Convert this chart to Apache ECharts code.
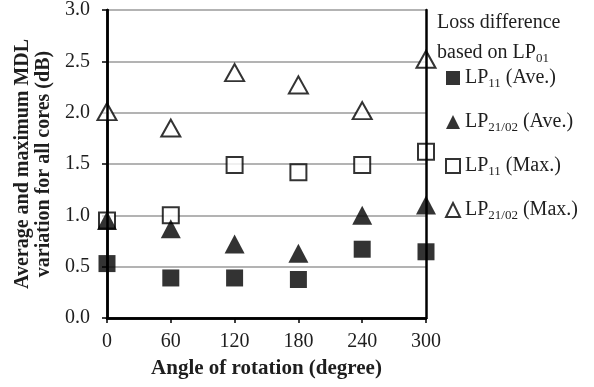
<!DOCTYPE html>
<html>
<head>
<meta charset="utf-8">
<script src="https://cdn.jsdelivr.net/npm/echarts@6/dist/echarts.min.js"></script>
<style>
  html, body { margin: 0; padding: 0; background: #fff; }
  #chart { width: 594px; height: 387px; }
</style>
</head>
<body>
<div id="chart"></div>
<script>
// Rotation angles (degrees) and MDL loss differences (dB) relative to LP01
const angles = [0, 60, 120, 180, 240, 300];
const lp11Ave = [0.53, 0.39, 0.39, 0.375, 0.67, 0.645];
const lp2102Ave = [0.95, 0.87, 0.72, 0.63, 1.0, 1.1];
const lp11Max = [0.95, 1.0, 1.49, 1.42, 1.49, 1.62];
const lp2102Max = [2.01, 1.85, 2.39, 2.27, 2.02, 2.52];

const seriesNames = ['LP11 (Ave.)', 'LP21/02 (Ave.)', 'LP11 (Max.)', 'LP21/02 (Max.)'];
const legendLabels = {
  'LP11 (Ave.)': '{n|LP}{s|11}{n| (Ave.)}',
  'LP21/02 (Ave.)': '{n|LP}{s|21/02}{n| (Ave.)}',
  'LP11 (Max.)': '{n|LP}{s|11}{n| (Max.)}',
  'LP21/02 (Max.)': '{n|LP}{s|21/02}{n| (Max.)}'
};

const FONT = '"Liberation Serif", "Times New Roman", serif';
const INK = '#000';
const TXT = '#1e1e1e';

const pairs = arr => angles.map((a, i) => [a, arr[i]]);

const chart = echarts.init(document.getElementById('chart'), null, { renderer: 'canvas' });

// Frame lines drawn above the markers (left, right and top edges of the plot)
const frameAxis = (pos, max) => ({
  type: 'value', position: pos, min: 0, max: max,
  z: 10,
  axisLine: { show: true, lineStyle: { color: INK, width: 2.5 } },
  axisTick: { show: false }, axisLabel: { show: false }, splitLine: { show: false }
});

chart.setOption({
  animation: false,
  backgroundColor: '#fff',
  textStyle: { fontFamily: FONT },
  grid: { left: 107, right: 168, top: 6, bottom: 69, show: false },
  title: {
    left: 432, top: 3,
    text: '{n|Loss difference}\n{n|based on LP}{s|01}',
    textStyle: {
      fontWeight: 'normal',
      rich: {
        n: { fontFamily: FONT, fontSize: 20, fontWeight: 'normal', color: TXT, lineHeight: 30 },
        s: { fontFamily: FONT, fontSize: 13, fontWeight: 'normal', color: TXT, lineHeight: 30, padding: [11, 0, 0, 0] }
      }
    }
  },
  legend: {
    orient: 'vertical', left: 445, top: 68, padding: 0,
    itemWidth: 14, itemHeight: 14, itemGap: 22,
    data: seriesNames,
    formatter: name => legendLabels[name],
    textStyle: {
      rich: {
        n: { fontFamily: FONT, fontSize: 20, color: TXT },
        s: { fontFamily: FONT, fontSize: 13, color: TXT, padding: [11, 0, 0, 0] }
      }
    }
  },
  xAxis: [
    {
      type: 'value', min: 0, max: 300, interval: 60,
      name: 'Angle of rotation (degree)', nameLocation: 'middle', nameGap: 40,
      nameTextStyle: { fontFamily: FONT, fontSize: 21, fontWeight: 'bold', color: TXT },
      axisLine: { show: true, lineStyle: { color: INK, width: 2.5 } },
      axisTick: { show: true, length: 5, lineStyle: { color: INK, width: 1.5 } },
      axisLabel: { fontFamily: FONT, fontSize: 20, color: TXT, margin: 14 },
      splitLine: { show: false }
    },
    frameAxis('top', 300)
  ],
  yAxis: [
    {
      type: 'value', min: 0, max: 3, interval: 0.5,
      name: 'Average and maximum MDL\nvariation for all cores (dB)',
      nameLocation: 'middle', nameGap: 43,
      nameTextStyle: { fontFamily: FONT, fontSize: 20, fontWeight: 'bold', color: TXT, lineHeight: 21 },
      axisLine: { show: true, lineStyle: { color: INK, width: 2.5 } },
      axisTick: { show: true, length: 5, lineStyle: { color: INK, width: 1.5 } },
      axisLabel: { fontFamily: FONT, fontSize: 20, color: TXT, margin: 17, formatter: v => v.toFixed(1) },
      splitLine: { show: true, lineStyle: { color: '#9a9a9a', width: 1.5 } }
    },
    frameAxis('left', 3),
    frameAxis('right', 3)
  ],
  series: [
    {
      name: 'LP11 (Ave.)', type: 'scatter', z: 3,
      symbol: 'rect', symbolSize: 17,
      itemStyle: { color: '#000' },
      data: pairs(lp11Ave)
    },
    {
      name: 'LP21/02 (Ave.)', type: 'scatter', z: 3,
      symbol: 'triangle', symbolSize: [20, 19],
      itemStyle: { color: '#000' },
      data: pairs(lp2102Ave)
    },
    {
      name: 'LP11 (Max.)', type: 'scatter', z: 2,
      symbol: 'rect', symbolSize: 16,
      itemStyle: { color: '#fff', borderColor: '#000', borderWidth: 2 },
      data: pairs(lp11Max)
    },
    {
      name: 'LP21/02 (Max.)', type: 'scatter', z: 2,
      symbol: 'triangle', symbolSize: [19, 17],
      itemStyle: { color: '#fff', borderColor: '#000', borderWidth: 2 },
      data: pairs(lp2102Max)
    }
  ]
});
</script>
</body>
</html>
